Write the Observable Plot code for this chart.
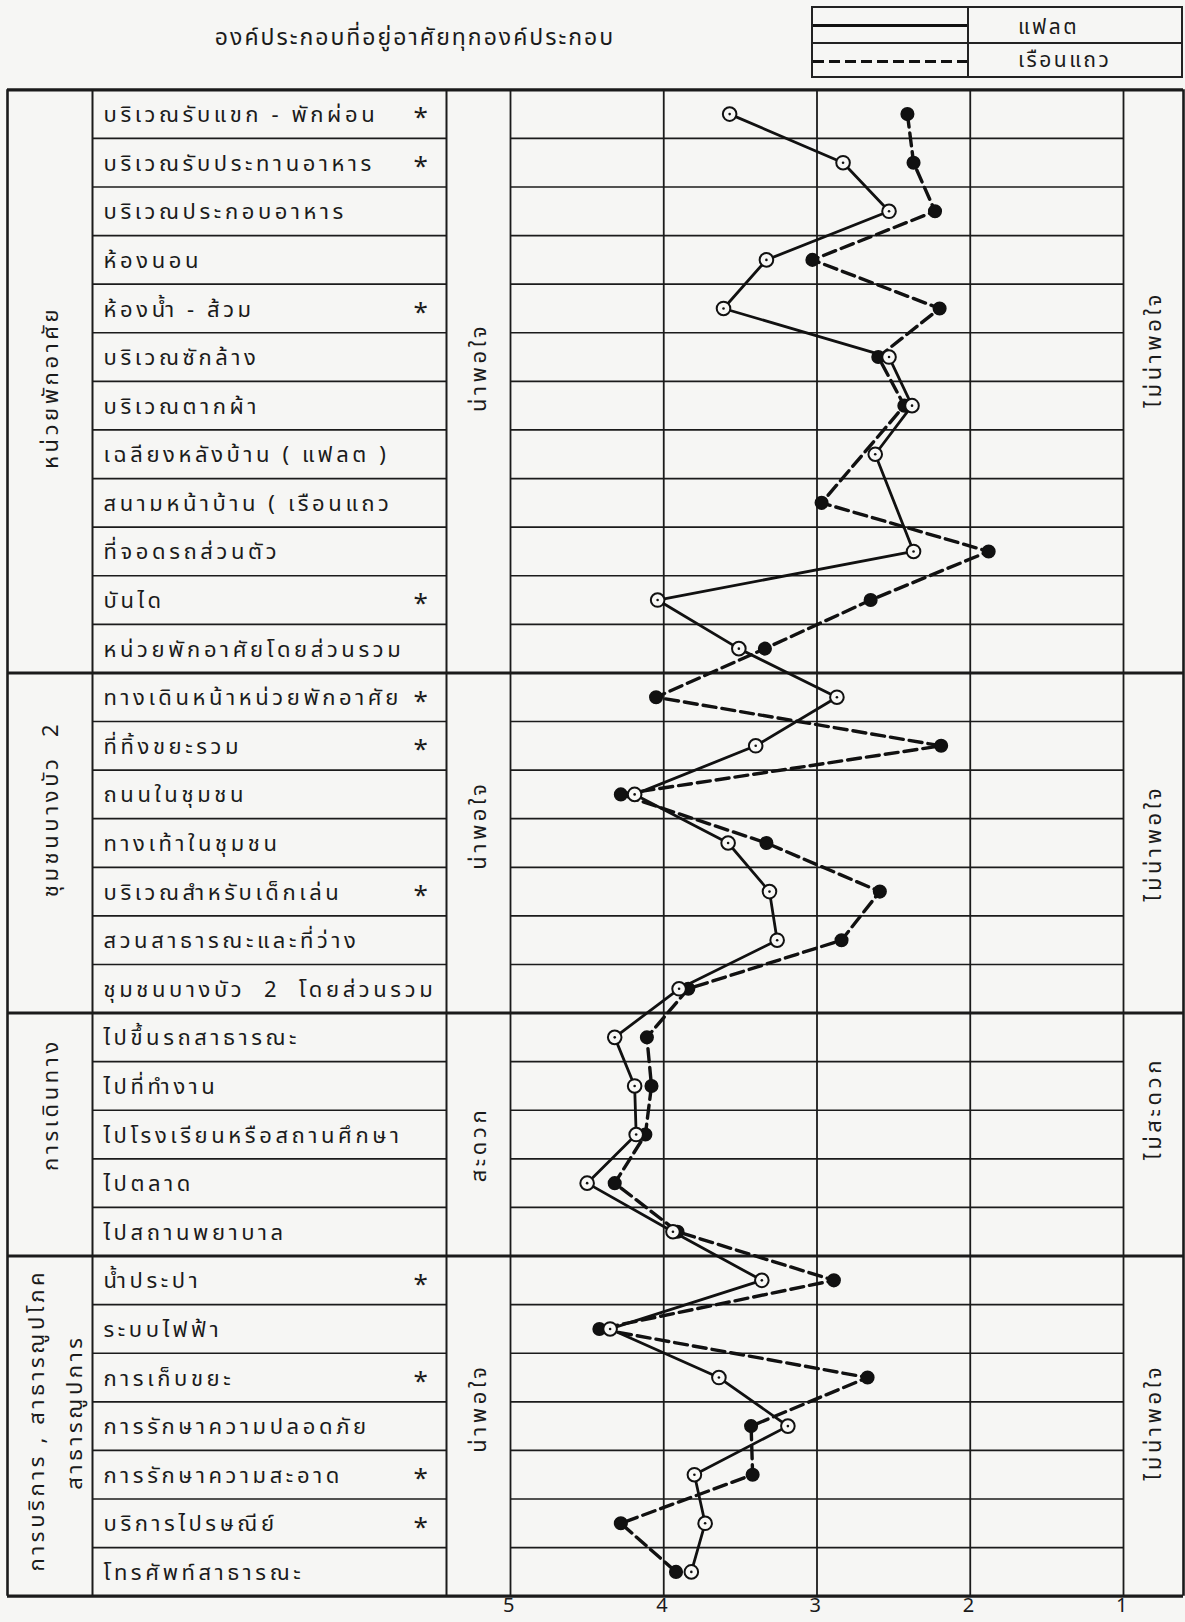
<!DOCTYPE html>
<html>
<head>
<meta charset="utf-8">
<script src="https://cdn.jsdelivr.net/npm/d3@7"></script>
<script src="https://cdn.jsdelivr.net/npm/@observablehq/plot@0.6"></script>
<style>
  html, body { margin: 0; padding: 0; background: #f6f6f4; }
  #wrap { position: relative; width: 1185px; height: 1622px; color: #1b1b1b;
    font-family: "Noto Sans Thai", "Tlwg Typist", "TlwgTypo", "Loma", "Garuda", "Norasi", "Noto Sans", "DejaVu Sans", sans-serif; }
  #chart { position: absolute; left: 0; top: 0; }
  #title { position: absolute; left: 190px; width: 450px; top: 21px; text-align: center; font-size: 23px; letter-spacing: 2px; }
  #legend { position: absolute; left: 811px; top: 6px; width: 372px; height: 72px; border: 2px solid #222; box-sizing: border-box; }
  #legend .vdiv { position: absolute; left: 154px; top: 0; bottom: 0; border-left: 2px solid #222; }
  #legend .hdiv { position: absolute; left: 0; right: 0; top: 34px; border-top: 2px solid #222; }
  #legend .solid { position: absolute; left: 0; width: 154px; top: 16px; border-top: 3px solid #111; }
  #legend .dash { position: absolute; left: 0; width: 154px; top: 52px; height: 3px;
    background: repeating-linear-gradient(90deg, #111 0 11px, transparent 11px 16px); }
  #legend .lab { position: absolute; left: 205px; font-size: 21px; letter-spacing: 2.5px; line-height: 1; }
</style>
</head>
<body>
<div id="wrap">
  <div id="chart"></div>
  <div id="title">องค์ประกอบที่อยู่อาศัยทุกองค์ประกอบ</div>
  <div id="legend">
    <div class="solid"></div>
    <div class="hdiv"></div>
    <div class="dash"></div>
    <div class="vdiv"></div>
    <div class="lab" style="top:9px">แฟลต</div>
    <div class="lab" style="top:42px">เรือนแถว</div>
  </div>
</div>
<script>
// ---------------- data ----------------
const items = [
  "บริเวณรับแขก - พักผ่อน", "บริเวณรับประทานอาหาร", "บริเวณประกอบอาหาร", "ห้องนอน",
  "ห้องน้ำ - ส้วม", "บริเวณซักล้าง", "บริเวณตากผ้า", "เฉลียงหลังบ้าน ( แฟลต )",
  "สนามหน้าบ้าน ( เรือนแถว", "ที่จอดรถส่วนตัว", "บันได", "หน่วยพักอาศัยโดยส่วนรวม",
  "ทางเดินหน้าหน่วยพักอาศัย", "ที่ทิ้งขยะรวม", "ถนนในชุมชน", "ทางเท้าในชุมชน",
  "บริเวณสำหรับเด็กเล่น", "สวนสาธารณะและที่ว่าง", "ชุมชนบางบัว  2  โดยส่วนรวม",
  "ไปขึ้นรถสาธารณะ", "ไปที่ทำงาน", "ไปโรงเรียนหรือสถานศึกษา", "ไปตลาด", "ไปสถานพยาบาล",
  "น้ำประปา", "ระบบไฟฟ้า", "การเก็บขยะ", "การรักษาความปลอดภัย", "การรักษาความสะอาด",
  "บริการไปรษณีย์", "โทรศัพท์สาธารณะ"
];
const starred = [1,1,0,0,1,0,0,0,0,0,1,0, 1,1,0,0,1,0,0, 0,0,0,0,0, 1,0,1,0,1,1,0];
const flat = [3.57, 2.83, 2.53, 3.33, 3.61, 2.53, 2.38, 2.62, null, 2.37, 4.04, 3.51,
              2.87, 3.40, 4.19, 3.58, 3.31, 3.26, 3.90,
              4.32, 4.19, 4.18, 4.50, 3.94,
              3.36, 4.35, 3.64, 3.19, 3.80, 3.73, 3.82];
const rowhouse = [2.41, 2.37, 2.23, 3.03, 2.20, 2.60, 2.43, null, 2.97, 1.88, 2.65, 3.34,
                  4.05, 2.19, 4.28, 3.33, 2.59, 2.84, 3.84,
                  4.11, 4.08, 4.12, 4.32, 3.91,
                  2.89, 4.42, 2.67, 3.43, 3.42, 4.28, 3.92];
const groupNames = ["หน่วยพักอาศัย", "ชุมชนบางบัว  2", "การเดินทาง", "การบริการ , สาธารณูปโภค"];
const groupSecondLine = [null, null, null, "สาธารณูปการ"];
const groupSizes = [12, 7, 5, 7];
const goodLabels = ["น่าพอใจ", "น่าพอใจ", "สะดวก", "น่าพอใจ"];
const badLabels = ["ไม่น่าพอใจ", "ไม่น่าพอใจ", "ไม่สะดวก", "ไม่น่าพอใจ"];
const xTicks = [5, 4, 3, 2, 1];

// ---------------- layout (pixels) ----------------
const PX5 = 510, PX1 = 1123;                 // pixel positions of score 5 and score 1
const toX = px => 5 - (px - PX5) / ((PX1 - PX5) / 4); // layout helper for the table frame
const colLeft = 7, colGroup = 92, colItem = 446, colRight = 1183;
const ink = "#1b1b1b";
// small vertical nudges (px) of the rotated column labels, per group
const nudgeGroup = [6, -34, -30, -6];
const nudgeGood = [-14, -18, 10, -18];
const nudgeBad = [-32, 0, -26, -4];

const rows = items.map((label, i) => ({i, label, star: starred[i], flat: flat[i], row: rowhouse[i]}));
const starts = groupSizes.map((s, k) => d3.sum(groupSizes.slice(0, k)));
const groups = groupSizes.map((s, k) => ({k, start: starts[k], size: s, center: starts[k] + (s - 1) / 2,
  name: groupNames[k], second: groupSecondLine[k]}));
const nRows = items.length;
const rowBounds = d3.range(1, nRows).filter(b => !starts.includes(b)).map(b => b - 0.5);
const groupBounds = starts.slice(1).map(b => b - 0.5);
const singleGroups = groups.filter(g => !g.second);
const doubleGroups = groups.filter(g => g.second);

const flatPts = rows.filter(d => d.flat != null);
const rowPts = rows.filter(d => d.row != null);

const rotated = (data, opts, nudges) => data.map(g =>
  Plot.text([g], {...opts, y: "center", dy: nudges[g.k], rotate: -90, fontSize: 22, fill: ink}));

const plot = Plot.plot({
  width: 1185, height: 1622,
  marginTop: 0, marginBottom: 0, marginLeft: 0, marginRight: 0,
  x: {domain: [5, 1], range: [PX5, PX1], axis: null},
  y: {domain: [-0.5, nRows - 0.5], range: [89.3, 1595.7], axis: null},
  style: {background: "transparent", fontFamily: "\"Noto Sans Thai\", \"Tlwg Typist\", \"TlwgTypo\", Loma, Garuda, Norasi, \"Noto Sans\", \"DejaVu Sans\", sans-serif", color: ink, letterSpacing: "3.6px"},
  marks: [
    // thin row lines: item column and plot area
    Plot.ruleY(rowBounds, {y: d => d, x1: toX(colGroup), x2: toX(colItem), stroke: ink, strokeWidth: 1.7}),
    Plot.ruleY(rowBounds, {y: d => d, x1: 5, x2: 1, stroke: ink, strokeWidth: 1.7}),
    // group separators, top and bottom borders
    Plot.ruleY(groupBounds, {y: d => d, x1: toX(colLeft), x2: toX(colRight), stroke: ink, strokeWidth: 3}),
    Plot.ruleY([-0.5, nRows - 0.5], {y: d => d, x1: toX(colLeft), x2: toX(colRight), stroke: ink, strokeWidth: 3.2}),
    // vertical lines
    Plot.ruleX([toX(colLeft), toX(colRight)], {x: d => d, y1: -0.5, y2: nRows - 0.5, stroke: ink, strokeWidth: 2.6}),
    Plot.ruleX([toX(colGroup), toX(colItem)], {x: d => d, y1: -0.5, y2: nRows - 0.5, stroke: ink, strokeWidth: 2}),
    Plot.ruleX(xTicks, {x: d => d, y1: -0.5, y2: nRows - 0.5, stroke: ink, strokeWidth: 1.8}),
    // item labels
    Plot.text(rows, {x: toX(103), y: "i", text: "label", textAnchor: "start", fontSize: 22, dy: 1, fill: ink}),
    Plot.text(rows.filter(d => d.star), {x: toX(422), y: "i", text: () => "*", fontSize: 26, dy: 4, fill: ink}),
    // group labels (rotated)
    ...rotated(singleGroups, {x: toX(50), text: "name"}, nudgeGroup),
    ...rotated(doubleGroups, {x: toX(36), text: "name"}, nudgeGroup),
    ...rotated(doubleGroups, {x: toX(74), text: "second"}, [0, 0, 0, -14]),
    ...rotated(groups, {x: toX(478), text: d => goodLabels[d.k]}, nudgeGood),
    ...rotated(groups, {x: toX(1153), text: d => badLabels[d.k]}, nudgeBad),
    // tick labels
    Plot.text(xTicks, {x: d => d, y: nRows - 0.5, dy: 9, lineAnchor: "middle", text: d => String(d), fontSize: 20, fill: ink}),
    // series lines
    Plot.line(rowPts, {x: "row", y: "i", stroke: "#111", strokeWidth: 3.4, strokeDasharray: "13,6"}),
    Plot.line(flatPts, {x: "flat", y: "i", stroke: "#111", strokeWidth: 2.8}),
    // markers
    Plot.dot(rowPts, {x: "row", y: "i", r: 6.3, fill: "#111", stroke: "#111"}),
    Plot.dot(flatPts, {x: "flat", y: "i", r: 6.8, fill: "#f8f8f6", stroke: "#111", strokeWidth: 2}),
    Plot.dot(flatPts, {x: "flat", y: "i", r: 1.3, fill: "#111"})
  ]
});
document.getElementById("chart").appendChild(plot);
</script>
</body>
</html>
